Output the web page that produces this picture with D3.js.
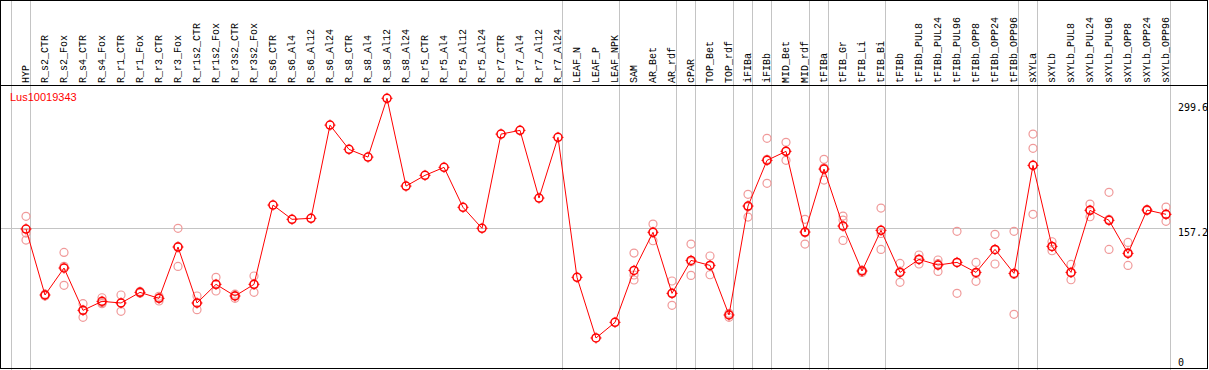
<!DOCTYPE html>
<html>
<head>
<meta charset="utf-8">
<script src="https://cdn.jsdelivr.net/npm/d3@7.9.0/dist/d3.min.js"></script>
<style>
  html, body { margin: 0; padding: 0; background: #fff; }
  svg { display: block; }
  .col-label { font-family: "Liberation Mono", "DejaVu Sans Mono", monospace; font-size: 10px; fill: #000; }
  .tick-label { font-family: "DejaVu Sans Mono", monospace; font-size: 10px; fill: #000; }
  .series-name { font-family: "Liberation Sans", Arial, sans-serif; font-size: 11px; fill: #f00; }
</style>
</head>
<body>
<svg id="chart" width="1209" height="370"></svg>
<script>
// sample names (x axis)
const categories = [
  "HYP",
  "R_s2_CTR", "R_s2_Fox", "R_s4_CTR", "R_s4_Fox", "R_r1_CTR", "R_r1_Fox",
  "R_r3_CTR", "R_r3_Fox", "R_r1s2_CTR", "R_r1s2_Fox", "R_r3s2_CTR", "R_r3s2_Fox",
  "R_s6_CTR", "R_s6_Al4", "R_s6_Al12", "R_s6_Al24",
  "R_s8_CTR", "R_s8_Al4", "R_s8_Al12", "R_s8_Al24",
  "R_r5_CTR", "R_r5_Al4", "R_r5_Al12", "R_r5_Al24",
  "R_r7_CTR", "R_r7_Al4", "R_r7_Al12", "R_r7_Al24",
  "LEAF_N", "LEAF_P", "LEAF_NPK",
  "SAM", "AR_Bet", "AR_rdf", "cPAR", "TOP_Bet", "TOP_rdf",
  "iFIBa", "iFIBb", "MID_Bet", "MID_rdf", "tFIBa",
  "tFIB_Gr", "tFIB_Li", "tFIB_Bi",
  "tFIBb", "tFIBb_PUL8", "tFIBb_PUL24", "tFIBb_PUL96", "tFIBb_OPP8", "tFIBb_OPP24", "tFIBb_OPP96",
  "sXYLa", "sXYLb", "sXYLb_PUL8", "sXYLb_PUL24", "sXYLb_PUL96", "sXYLb_OPP8", "sXYLb_OPP24", "sXYLb_OPP96"
];

// mean expression per sample
const meanValues = [
  155.7,
  83.1, 112.8, 66.2, 76.1, 74.3, 86.0,
  79.4, 135.9, 74.3, 94.8, 82.0, 94.8,
  182.1, 166.4, 167.5, 270.1,
  243.4, 234.9, 299.6, 203.0,
  214.8, 223.6, 179.6, 156.5,
  260.2, 264.3, 189.8, 256.6,
  102.5, 35.8, 53.0,
  110.2, 152.1, 84.9, 121.2, 115.7, 61.1,
  181.0, 231.3, 241.2, 152.4, 221.7,
  159.0, 109.5, 154.3,
  108.0, 122.3, 116.1, 119.0, 108.0, 133.3, 106.9,
  225.8, 136.6, 108.0, 176.3, 165.3, 128.9, 176.6, 171.9
];

// individual replicates (pale circles), empty where only the mean is drawn
const replicateValues = [
  [169.7, 151.3, 143.6],
  [82.0, 84.0, 83.0], [130.0, 93.7, 114.7], [73.5, 58.5, 66.6], [80.1, 73.5, 74.7], [83.1, 65.1, 74.7], [85.0, 87.0, 86.0],
  [76.5, 80.0, 81.7], [156.5, 114.6, 136.6], [82.0, 66.9, 74.0], [102.5, 87.5, 94.4], [79.4, 84.0, 82.5], [104.0, 86.0, 94.4],
  [], [], [], [],
  [], [], [], [],
  [], [], [], [],
  [], [], [], [],
  [], [], [],
  [129.3, 99.6, 105.1], [161.2, 142.8, 152.3], [98.5, 71.7, 84.5], [139.2, 104.7, 119.7], [126.0, 105.4, 115.7], [58.5, 62.9, 61.9],
  [193.9, 168.9, 180.2], [255.5, 206.0, 232.4], [251.1, 231.3, 241.2], [166.4, 139.2, 151.6], [232.4, 209.6, 223.1],
  [170.0, 165.6, 143.2], [108.0, 110.0, 110.5], [178.8, 133.3, 150.8],
  [117.9, 97.0, 109.1], [127.1, 117.2, 122.6], [121.6, 109.1, 117.6], [153.2, 84.9, 118.9], [119.0, 98.1, 106.9], [149.9, 117.2, 132.8], [153.2, 61.8, 105.7],
  [260.2, 244.5, 171.9], [141.7, 131.8, 136.3], [116.8, 99.9, 107.3], [183.2, 169.2, 176.5], [196.1, 133.3, 166.5], [141.0, 115.7, 130.0], [176.0, 177.0, 176.8], [179.9, 164.2, 171.6]
];

// group separators are drawn right after these samples
const groupEnds = ["HYP", "R_r7_Al24", "LEAF_NPK", "AR_rdf", "cPAR", "TOP_rdf", "iFIBa", "iFIBb",
                   "MID_rdf", "tFIBa", "tFIB_Bi", "tFIBb_OPP96", "sXYLa", "sXYLb_OPP96"];

const tickValues = [0, 157.2, 299.6];
const seriesName = "Lus10019343";

const W = 1209, H = 370;
const headerBottom = 85;
const svg = d3.select("#chart");

const x = d3.scalePoint().domain(categories).range([26, 1166]);
const y = d3.scaleLinear().domain([0, d3.max(meanValues)]).range([370.5, 98.3]);

// grey separators (full height, through the header)
svg.append("line")
  .attr("x1", 11.5).attr("x2", 11.5).attr("y1", 0).attr("y2", H)
  .attr("stroke", "#c4c4c4");
svg.selectAll("line.sep")
  .data(groupEnds)
  .join("line")
  .attr("class", "sep")
  .attr("x1", d => Math.round(x(d) + 4) + 0.5)
  .attr("x2", d => Math.round(x(d) + 4) + 0.5)
  .attr("y1", 0).attr("y2", H)
  .attr("stroke", "#c4c4c4");

// grey reference line at the middle tick
svg.append("line")
  .attr("x1", 0).attr("x2", Math.round(x(categories[categories.length - 1]) + 4) + 0.5)
  .attr("y1", Math.round(y(157.2)) + 0.5).attr("y2", Math.round(y(157.2)) + 0.5)
  .attr("stroke", "#c4c4c4");

// frame
svg.append("rect")
  .attr("x", 0.5).attr("y", 0.5).attr("width", 1207).attr("height", 368)
  .attr("fill", "none").attr("stroke", "#000");
svg.append("line")
  .attr("x1", 0).attr("x2", 1208).attr("y1", headerBottom + 0.5).attr("y2", headerBottom + 0.5)
  .attr("stroke", "#000");

// column labels, rotated
svg.selectAll("text.col-label")
  .data(categories)
  .join("text")
  .attr("class", "col-label")
  .attr("transform", d => `translate(${x(d)},${headerBottom - 2}) rotate(-90)`)
  .attr("dy", "0.3em")
  .text(d => d);

// right tick labels (kept inside the plot area)
svg.selectAll("text.tick-label")
  .data(tickValues)
  .join("text")
  .attr("class", "tick-label")
  .attr("x", 1178)
  .attr("y", d => Math.min(Math.max(y(d), 102.5), 358) + 8)
  .text(d => d);

// series name
svg.append("text")
  .attr("class", "series-name")
  .attr("x", 10).attr("y", 101)
  .text(seriesName);

// replicates
const reps = [];
replicateValues.forEach((vals, i) => vals.forEach(v => reps.push({ c: categories[i], v })));
svg.selectAll("circle.rep")
  .data(reps)
  .join("circle")
  .attr("class", "rep")
  .attr("cx", d => x(d.c))
  .attr("cy", d => y(d.v))
  .attr("r", 4)
  .attr("fill", "none")
  .attr("stroke", "#f09a9a")
  .attr("stroke-width", 1.2);

// mean line
const line = d3.line()
  .x((d, i) => x(categories[i]))
  .y(d => y(d));
svg.append("path")
  .datum(meanValues)
  .attr("d", line)
  .attr("fill", "none")
  .attr("stroke", "#f00")
  .attr("stroke-width", 1);

// mean markers
const marks = svg.selectAll("g.mean")
  .data(meanValues)
  .join("g")
  .attr("class", "mean")
  .attr("transform", (d, i) => `translate(${x(categories[i])},${y(d)})`);
marks.append("circle")
  .attr("r", 4)
  .attr("fill", "none")
  .attr("stroke", "#f00")
  .attr("stroke-width", 1.5);
marks.append("path")
  .attr("d", "M0,-5.5V-4M0,4V5.5M-5.5,0H-4M4,0H5.5")
  .attr("stroke", "#f00")
  .attr("stroke-width", 1);
</script>
</body>
</html>
